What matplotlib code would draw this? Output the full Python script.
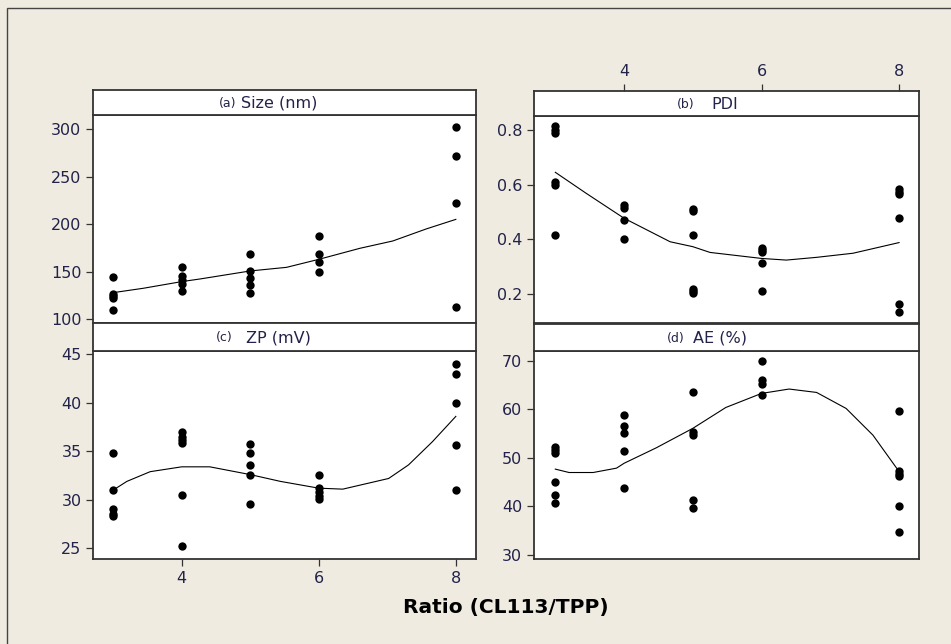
# Minitab-style 2x2 panel plot of responses vs CL113/TPP ratio
import matplotlib
matplotlib.use('Agg')
import matplotlib.pyplot as plt
from matplotlib.patches import Rectangle

# scatter data
size_x = [3]*5 + [4]*5 + [5]*5 + [6]*4 + [8]*4
size_y = [144, 127, 124, 122, 110,
          155, 145, 141, 137, 130,
          169, 151, 143, 136, 128,
          188, 169, 160, 150,
          302, 272, 222, 113]

pdi_x = [3]*6 + [4]*4 + [5]*6 + [6]*5 + [8]*6
pdi_y = [0.815, 0.80, 0.79, 0.61, 0.60, 0.415,
         0.525, 0.515, 0.47, 0.40,
         0.51, 0.505, 0.415, 0.22, 0.212, 0.205,
         0.37, 0.362, 0.355, 0.315, 0.212,
         0.585, 0.572, 0.565, 0.477, 0.165, 0.135]

zp_x = [3]*5 + [4]*6 + [5]*5 + [6]*5 + [8]*5
zp_y = [34.8, 31.0, 29.1, 28.5, 28.3,
        37.0, 36.5, 36.2, 35.9, 30.5, 25.2,
        35.8, 34.8, 33.6, 32.6, 29.6,
        32.6, 31.2, 30.8, 30.4, 30.1,
        44.0, 43.0, 40.0, 35.6, 31.0]

ae_x = [3]*6 + [4]*5 + [5]*5 + [6]*4 + [8]*6
ae_y = [52.3, 51.6, 51.1, 45.1, 42.4, 40.8,
        58.9, 56.6, 55.2, 51.5, 43.8,
        63.5, 55.3, 54.8, 41.3, 39.6,
        69.9, 66.1, 65.3, 63.0,
        59.6, 47.4, 46.7, 46.2, 40.0, 34.8]

# smoother lines
size_cx = [3, 3.44, 4, 4.27, 5, 5.53, 6, 6.6, 7.08, 7.57, 8]
size_cy = [128, 132.6, 139.6, 142.4, 150.8, 154.6, 163, 174.6, 182.3, 195, 205]

pdi_cx = [3, 3.45, 4, 4.67, 5, 5.25, 6, 6.36, 6.8, 7.33, 8]
pdi_cy = [0.645, 0.568, 0.477, 0.391, 0.373, 0.352, 0.330, 0.324, 0.334, 0.349, 0.388]

zp_cx = [3, 3.2, 3.54, 4, 4.41, 5, 5.44, 6, 6.35, 7.02, 7.31, 7.66, 8]
zp_cy = [31.0, 31.9, 32.9, 33.4, 33.4, 32.6, 31.9, 31.2, 31.1, 32.2, 33.6, 36.0, 38.6]

ae_cx = [3, 3.2, 3.55, 3.89, 4, 4.47, 5, 5.48, 6, 6.4, 6.8, 7.23, 7.62, 8]
ae_cy = [47.7, 47.0, 47.0, 47.9, 48.9, 52.1, 56.1, 60.4, 63.3, 64.2, 63.5, 60.2, 54.7, 47.2]

ratio_ticks = [4, 6, 8]

W, H = 951, 644
bg = '#efebe1'
tick_col = '#22224a'
frame_col = '#333333'

fig = plt.figure(figsize=(W/100, H/100), dpi=100, facecolor=bg)

# outer frame (only top and left visible in the crop)
fig.add_artist(Rectangle((7/W, -0.1), 1.2, 1 - 8/H + 0.1, transform=fig.transFigure,
                         fill=False, edgecolor='#444444', lw=1.0))


def box(x0, x1, y0, y1):
    # pixel box (from top-left) -> figure fraction rect
    return [x0/W, 1 - y1/H, (x1 - x0)/W, (y1 - y0)/H]


def style_ticks(ax):
    ax.tick_params(axis='both', direction='out', length=5, width=0.9,
                   color=frame_col, labelcolor=tick_col, labelsize=11.5)
    for sp in ax.spines.values():
        sp.set_color(frame_col)
        sp.set_linewidth(1.3)


def make_panel(plot_rect, strip_rect, xs, ys, cx, cy, ylim, yticks, xlim,
               tag, title, tag_pos, title_pos, yfmt='{:g}', xtop=False, xbottom=False):
    ax = fig.add_axes(box(*plot_rect))
    ax.set_facecolor('white')
    ax.scatter(xs, ys, s=36, color='black', marker='o', zorder=3, linewidths=0)
    ax.plot(cx, cy, color='black', lw=0.8, zorder=2)
    ax.set_xlim(*xlim)
    ax.set_ylim(*ylim)
    ax.set_yticks(yticks)
    ax.set_yticklabels([yfmt.format(v) for v in yticks])
    ax.set_xticks(ratio_ticks)
    style_ticks(ax)
    ax.tick_params(axis='x', top=False, labeltop=False, bottom=xbottom, labelbottom=xbottom)

    st = fig.add_axes(box(*strip_rect))
    st.set_facecolor('white')
    st.set_xlim(*xlim)
    st.set_yticks([])
    st.set_xticks(ratio_ticks)
    style_ticks(st)
    # top ratio axis sits on the strip in panel (b)
    st.tick_params(axis='x', bottom=False, labelbottom=False, top=xtop, labeltop=xtop)
    st.text(tag_pos, 0.47, tag, ha='right', va='center', fontsize=9, color=tick_col,
            transform=st.transAxes)
    st.text(title_pos, 0.47, title, ha='left', va='center', fontsize=11.5, color=tick_col,
            transform=st.transAxes)
    return ax


make_panel((93.3, 475.7, 115, 323), (93.3, 475.7, 90, 115), size_x, size_y,
           size_cx, size_cy, (96.1, 314.7), [100, 150, 200, 250, 300], (2.71, 8.29),
           '(a)', 'Size (nm)', 0.373, 0.386)

make_panel((534, 919, 115.7, 322.7), (534, 919, 91, 115.7), pdi_x, pdi_y,
           pdi_cx, pdi_cy, (0.095, 0.852), [0.2, 0.4, 0.6, 0.8], (2.69, 8.29),
           '(b)', 'PDI', 0.418, 0.46, yfmt='{:.1f}', xtop=True)

make_panel((93.3, 475.7, 350.7, 558.7), (93.3, 475.7, 323, 350.7), zp_x, zp_y,
           zp_cx, zp_cy, (23.93, 45.37), [25, 30, 35, 40, 45], (2.71, 8.29),
           '(c)', 'ZP (mV)', 0.365, 0.399, xbottom=True)

make_panel((534, 919, 350.7, 558.7), (534, 919, 324, 350.7), ae_x, ae_y,
           ae_cx, ae_cy, (29.24, 72.1), [30, 40, 50, 60, 70], (2.69, 8.29),
           '(d)', 'AE (%)', 0.39, 0.412)

fig.text(506/W, 1 - 607/H, 'Ratio (CL113/TPP)', ha='center', va='center',
         fontsize=14.5, fontweight='bold', color='black')

plt.savefig('out.png', dpi=100, facecolor=bg)
